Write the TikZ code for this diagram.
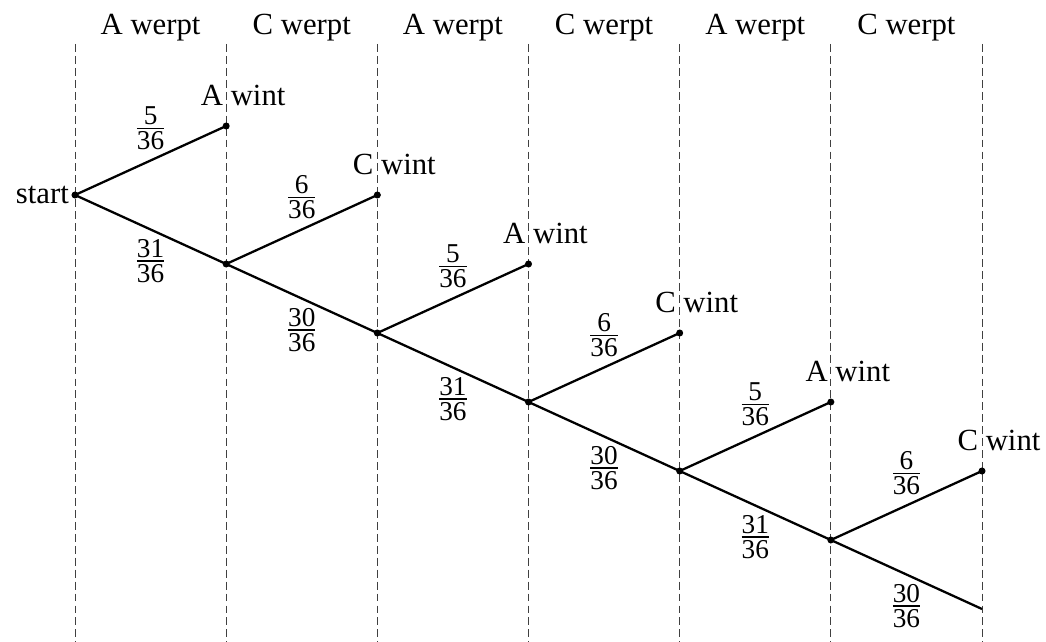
\documentclass[tikz,border=0pt]{standalone}
\usepackage{fontspec}
\setmainfont{Liberation Serif}

% Tight fraction in the text font
\newcommand{\frc}[2]{{\fontsize{15.5}{18}\selectfont$\vcenter{\offinterlineskip
    \halign{\hfil##\hfil\cr #1\cr\noalign{\kern1.5pt\hrule height0.8pt\kern1.5pt}#2\cr}}$}}

\begin{document}
\begin{tikzpicture}[x=0.02cm, y=-0.02cm, font=\fontsize{17.5}{21}\selectfont,
    column/.style={dash pattern=on 4.5pt off 2.3pt, black!75, line width=0.5pt},
    branch/.style={line width=1.3pt},
    prob up/.style={midway, yshift=0.64cm},
    prob down/.style={midway, yshift=-0.63cm}]
    % Parameters
    \def\colw{151.17}
    \def\rowh{69}
    \def\xs{75}
    \def\ys{195}

    \useasboundingbox (0,0) rectangle (1046,642);

    % Dashed column borders
    \foreach \i in {0,...,6}
        \draw[column] ({\xs+\i*\colw},44) -- ({\xs+\i*\colw},642);

    % Column headers
    \foreach \i/\who in {1/A,2/C,3/A,4/C,5/A,6/C}
        \node[anchor=base] (head\i) at ({\xs+(\i-0.5)*\colw},35) {\who{} werpt};

    % Tree points
    \coordinate (m0) at (\xs,\ys);
    \foreach \i in {1,...,6} {
        \coordinate (m\i) at ({\xs+\i*\colw},{\ys+\i*\rowh});
        \coordinate (w\i) at ({\xs+\i*\colw},{\ys+(\i-2)*\rowh});
    }

    \node[left] (start) at (m0) {start};

    % Branches with probabilities
    \foreach \i/\who/\p/\q [evaluate=\i as \j using int(\i-1)] in
        {1/A/5/31, 2/C/6/30, 3/A/5/31, 4/C/6/30, 5/A/5/31, 6/C/6/30} {
        \draw[branch] (m\j) -- (w\i) node[prob up] {\frc{\p}{36}};
        \draw[branch] (m\j) -- (m\i) node[prob down] {\frc{\q}{36}};
        \node[anchor=base, xshift=0.34cm, yshift=0.42cm] (win\i) at (w\i) {\who{} wint};
    }

    % Dots
    \foreach \pt in {m0,m1,m2,m3,m4,m5,w1,w2,w3,w4,w5,w6}
        \fill (\pt) circle (2pt);
\end{tikzpicture}
\end{document}
